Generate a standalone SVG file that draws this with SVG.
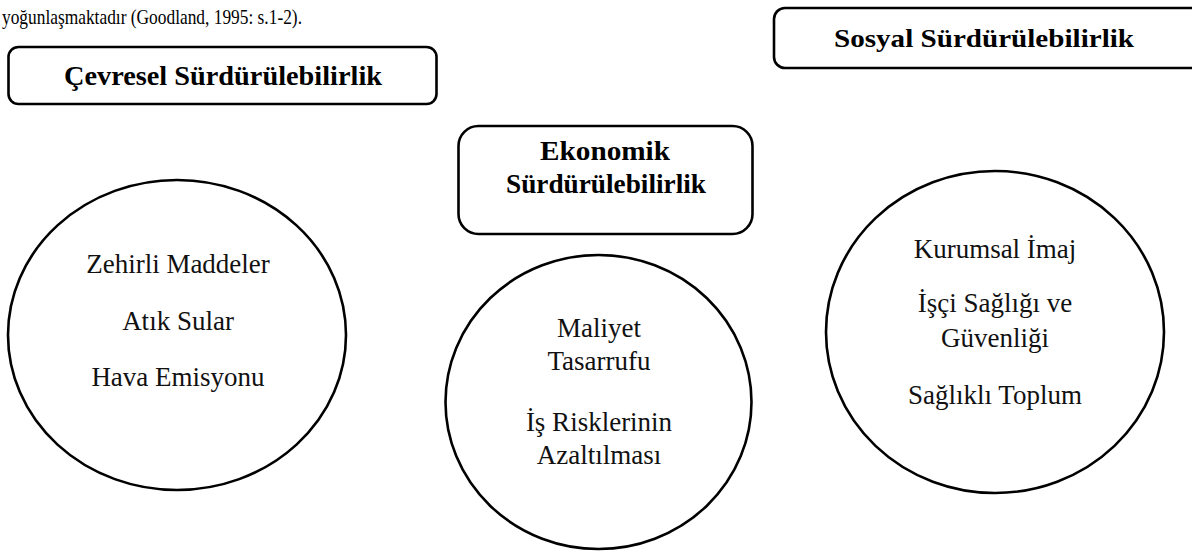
<svg xmlns="http://www.w3.org/2000/svg" width="1192" height="552" viewBox="0 0 1192 552">
<style>
.box{fill:#fff;stroke:#000;stroke-width:2.6}
.circ{fill:#fff;stroke:#000;stroke-width:2.6}
.t{font-family:"Liberation Serif","Times New Roman","DejaVu Serif",serif;font-size:27px;fill:#111;text-anchor:middle}
.h{font-family:"Liberation Serif","Times New Roman","DejaVu Serif",serif;font-size:27px;font-weight:bold;fill:#000;text-anchor:middle}
.body{font-family:"Liberation Serif","Times New Roman","DejaVu Serif",serif;font-size:22px;fill:#000}
</style>
<rect width="1192" height="552" fill="#fff"/>
<text class="body" x="2" y="24" textLength="300" lengthAdjust="spacingAndGlyphs">yoğunlaşmaktadır (Goodland, 1995: s.1-2).</text>
<g id="cevresel">
<rect class="box" x="8.5" y="47" width="428" height="57" rx="10"/>
<text class="h" x="223" y="85" textLength="318" lengthAdjust="spacingAndGlyphs">Çevresel Sürdürülebilirlik</text>
</g>
<g id="sosyal">
<rect class="box" x="774" y="8" width="440" height="60" rx="11"/>
<text class="h" x="984" y="47" style="font-size:26px" textLength="300" lengthAdjust="spacingAndGlyphs">Sosyal Sürdürülebilirlik</text>
</g>
<g id="ekonomik">
<rect class="box" x="458.5" y="126" width="294" height="108" rx="20"/>
<text class="h" x="605" y="160" textLength="130" lengthAdjust="spacingAndGlyphs">Ekonomik</text>
<text class="h" x="606" y="193" textLength="200" lengthAdjust="spacingAndGlyphs">Sürdürülebilirlik</text>
</g>
<g id="cevre-circle">
<ellipse class="circ" cx="177" cy="335" rx="169" ry="155"/>
<text class="t" x="178" y="273">Zehirli Maddeler</text>
<text class="t" x="178" y="330">Atık Sular</text>
<text class="t" x="178" y="386">Hava Emisyonu</text>
</g>
<g id="ekonomi-circle">
<ellipse class="circ" cx="598.5" cy="402" rx="153" ry="147"/>
<text class="t" x="599" y="337">Maliyet</text>
<text class="t" x="599" y="370">Tasarrufu</text>
<text class="t" x="599" y="431">İş Risklerinin</text>
<text class="t" x="599" y="464">Azaltılması</text>
</g>
<g id="sosyal-circle">
<ellipse class="circ" cx="995" cy="332" rx="169" ry="161"/>
<text class="t" x="995" y="258">Kurumsal İmaj</text>
<text class="t" x="995" y="312">İşçi Sağlığı ve</text>
<text class="t" x="995" y="347">Güvenliği</text>
<text class="t" x="995" y="404">Sağlıklı Toplum</text>
</g>
<g id="connectors"></g>
</svg>
